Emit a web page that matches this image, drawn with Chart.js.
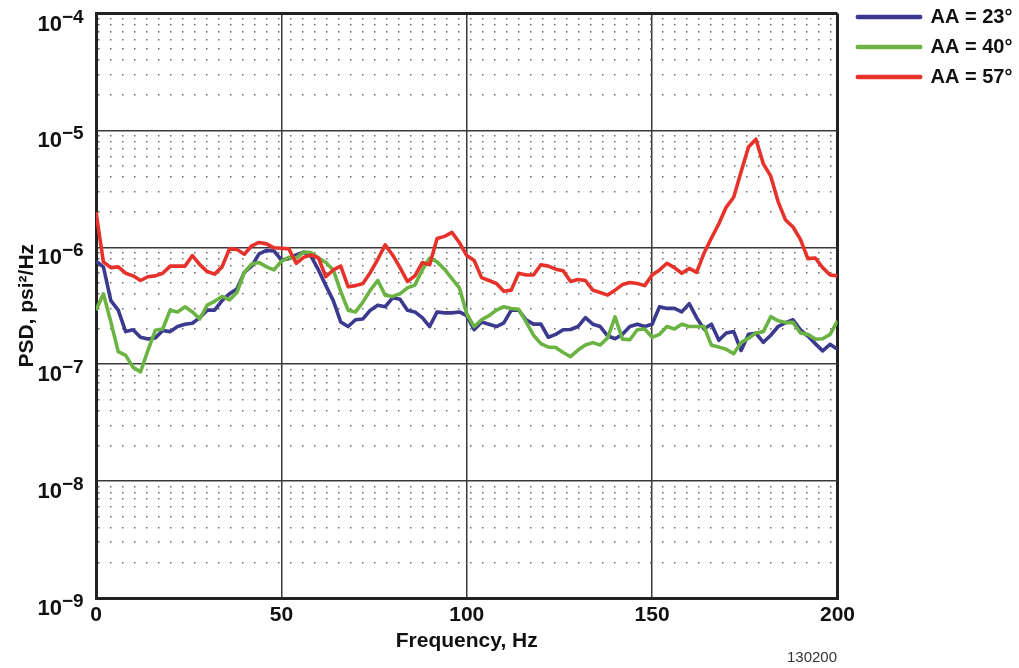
<!DOCTYPE html>
<html lang="en">
<head>
  <meta charset="UTF-8">
  <title>PSD vs frequency</title>
  <style>
    body {
      margin: 0;
      background: #fff;
    }
    #wrap {
      position: relative;
      width: 1019px;
      height: 668px;
    }
    #figId {
      position: absolute;
      left: 787px;
      top: 649px;
      font: 15px/15px "Liberation Sans", Arial, sans-serif;
      color: #333;
    }
  </style>
</head>
<body>

  <div id="wrap">
    <canvas id="psdChart" width="1019" height="668"></canvas>
    <div id="figId">130200</div>
  </div>

  <script src="https://cdn.jsdelivr.net/npm/chart.js"></script>

  <script>
    // frequencies, Hz
    const freqHz = [
      0, 2, 4, 6, 8, 10, 12, 14, 16, 18,
      20, 22, 24, 26, 28, 30, 32, 34, 36, 38,
      40, 42, 44, 46, 48, 50, 52, 54, 56, 58,
      60, 62, 64, 66, 68, 70, 72, 74, 76, 78,
      80, 82, 84, 86, 88, 90, 92, 94, 96, 98,
      100, 102, 104, 106, 108, 110, 112, 114, 116, 118,
      120, 122, 124, 126, 128, 130, 132, 134, 136, 138,
      140, 142, 144, 146, 148, 150, 152, 154, 156, 158,
      160, 162, 164, 166, 168, 170, 172, 174, 176, 178,
      180, 182, 184, 186, 188, 190, 192, 194, 196, 198,
      200
    ];

    // PSD, psi^2/Hz
    const psdAA23 = [
      7.6e-7, 6.8e-7, 3.5e-7, 2.9e-7, 1.9e-7, 1.97e-7, 1.7e-7, 1.64e-7, 1.68e-7, 1.94e-7,
      1.9e-7, 2.1e-7, 2.2e-7, 2.24e-7, 2.5e-7, 2.9e-7, 2.9e-7, 3.5e-7, 4.0e-7, 4.4e-7,
      6.1e-7, 6.9e-7, 8.8e-7, 9.4e-7, 9.3e-7, 7.8e-7, 8.0e-7, 8.6e-7, 9.1e-7, 8.4e-7,
      6.4e-7, 4.7e-7, 3.5e-7, 2.3e-7, 2.1e-7, 2.4e-7, 2.44e-7, 2.9e-7, 3.2e-7, 3.1e-7,
      3.7e-7, 3.6e-7, 2.9e-7, 2.8e-7, 2.5e-7, 2.1e-7, 2.8e-7, 2.75e-7, 2.75e-7, 2.8e-7,
      2.6e-7, 1.97e-7, 2.3e-7, 2.2e-7, 2.1e-7, 2.26e-7, 2.9e-7, 2.9e-7, 2.4e-7, 2.2e-7,
      2.2e-7, 1.7e-7, 1.8e-7, 1.97e-7, 1.98e-7, 2.1e-7, 2.5e-7, 2.2e-7, 2.1e-7, 1.75e-7,
      1.65e-7, 1.8e-7, 2.1e-7, 2.2e-7, 2.1e-7, 2.2e-7, 3.1e-7, 3.0e-7, 3.0e-7, 2.8e-7,
      3.3e-7, 2.5e-7, 2.0e-7, 2.2e-7, 1.6e-7, 1.85e-7, 1.9e-7, 1.31e-7, 1.8e-7, 1.84e-7,
      1.54e-7, 1.77e-7, 2.1e-7, 2.27e-7, 2.4e-7, 1.97e-7, 1.74e-7, 1.5e-7, 1.3e-7, 1.48e-7,
      1.34e-7
    ];
    const psdAA40 = [
      2.9e-7, 4.0e-7, 2.3e-7, 1.28e-7, 1.19e-7, 9.4e-8, 8.6e-8, 1.31e-7, 1.95e-7, 2.0e-7,
      2.9e-7, 2.8e-7, 3.1e-7, 2.8e-7, 2.44e-7, 3.2e-7, 3.45e-7, 3.8e-7, 3.55e-7, 4.1e-7,
      6.1e-7, 7.2e-7, 7.4e-7, 6.8e-7, 6.4e-7, 7.6e-7, 8.2e-7, 8.1e-7, 9.1e-7, 9.0e-7,
      8.1e-7, 7.4e-7, 6.4e-7, 4.2e-7, 2.9e-7, 2.8e-7, 3.4e-7, 4.3e-7, 5.2e-7, 3.9e-7,
      3.8e-7, 4.0e-7, 4.5e-7, 4.75e-7, 6.4e-7, 8.1e-7, 7.5e-7, 6.5e-7, 5.4e-7, 4.5e-7,
      2.7e-7, 2.1e-7, 2.4e-7, 2.6e-7, 2.9e-7, 3.1e-7, 3.0e-7, 2.95e-7, 2.3e-7, 1.77e-7,
      1.5e-7, 1.4e-7, 1.39e-7, 1.26e-7, 1.16e-7, 1.32e-7, 1.46e-7, 1.53e-7, 1.46e-7, 1.68e-7,
      2.54e-7, 1.64e-7, 1.62e-7, 1.97e-7, 2.0e-7, 1.7e-7, 1.8e-7, 2.1e-7, 2.0e-7, 2.2e-7,
      2.1e-7, 2.1e-7, 2.1e-7, 1.45e-7, 1.4e-7, 1.34e-7, 1.23e-7, 1.53e-7, 1.67e-7, 1.85e-7,
      1.9e-7, 2.55e-7, 2.35e-7, 2.27e-7, 2.28e-7, 1.85e-7, 1.8e-7, 1.64e-7, 1.65e-7, 1.8e-7,
      2.35e-7
    ];
    const psdAA57 = [
      2.0e-6, 7.5e-7, 6.7e-7, 6.8e-7, 6.0e-7, 5.7e-7, 5.2e-7, 5.6e-7, 5.7e-7, 6.0e-7,
      6.9e-7, 6.9e-7, 6.9e-7, 8.5e-7, 7.1e-7, 6.2e-7, 5.9e-7, 6.8e-7, 9.7e-7, 9.6e-7,
      8.7e-7, 1.03e-6, 1.10e-6, 1.07e-6, 9.9e-7, 9.8e-7, 9.7e-7, 7.3e-7, 8.2e-7, 8.6e-7,
      8.1e-7, 5.6e-7, 6.4e-7, 6.9e-7, 4.6e-7, 4.7e-7, 4.9e-7, 6.1e-7, 7.9e-7, 1.05e-6,
      8.6e-7, 6.7e-7, 5.1e-7, 5.7e-7, 7.4e-7, 7.1e-7, 1.19e-6, 1.24e-6, 1.34e-6, 1.10e-6,
      8.5e-7, 7.7e-7, 5.5e-7, 5.2e-7, 4.9e-7, 4.2e-7, 4.3e-7, 6.0e-7, 5.8e-7, 5.8e-7,
      7.1e-7, 6.9e-7, 6.5e-7, 6.3e-7, 5.1e-7, 5.3e-7, 5.2e-7, 4.3e-7, 4.1e-7, 3.9e-7,
      4.3e-7, 4.8e-7, 5.0e-7, 4.9e-7, 4.7e-7, 5.8e-7, 6.4e-7, 7.3e-7, 6.7e-7, 6.0e-7,
      6.6e-7, 6.1e-7, 8.9e-7, 1.20e-6, 1.59e-6, 2.21e-6, 2.68e-6, 4.42e-6, 7.2e-6, 8.4e-6,
      5.17e-6, 4.06e-6, 2.45e-6, 1.71e-6, 1.49e-6, 1.17e-6, 8.0e-7, 8.1e-7, 6.7e-7, 5.8e-7,
      5.7e-7
    ];

    const seriesNames = ['AA = 23°', 'AA = 40°', 'AA = 57°'];
    const seriesColors = ['#3c3a8e', '#6bb342', '#e6322a'];

    const xTickValues = [0, 50, 100, 150, 200];
    const decadeExps = [-9, -8, -7, -6, -5, -4];
    const yTickBase = '10';
    const yTickExps = ['−9', '−8', '−7', '−6', '−5', '−4'];

    const FONT = '"Liberation Sans", Arial, Helvetica, sans-serif';
    Chart.defaults.font.family = FONT;
    Chart.defaults.color = '#111';

    function isDecade(v) {
      const l = Math.log10(v);
      return Math.abs(l - Math.round(l)) < 1e-6;
    }

    // grid positions 1..9 x 10^n for the dotted lines
    const yGridValues = [];
    decadeExps.forEach((e, i) => {
      if (i === decadeExps.length - 1) {
        yGridValues.push(Math.pow(10, e));
        return;
      }
      for (let m = 1; m <= 9; m++) yGridValues.push(m * Math.pow(10, e));
    });

    // y tick labels as 10 with a raised exponent
    const decadeLabels = {
      id: 'decadeLabels',
      afterDraw(chart) {
        const ctx = chart.ctx;
        const y = chart.scales.y;
        ctx.save();
        ctx.fillStyle = '#111';
        ctx.textBaseline = 'alphabetic';
        decadeExps.forEach((e, i) => {
          const py = y.getPixelForValue(Math.pow(10, e));
          ctx.font = 'bold 22px ' + FONT;
          ctx.textAlign = 'right';
          ctx.fillText(yTickBase, 62, py + 17);
          ctx.font = 'bold 19px ' + FONT;
          ctx.textAlign = 'left';
          ctx.fillText(yTickExps[i], 62, py + 9);
        });
        ctx.restore();
      }
    };

    const allSeries = [psdAA23, psdAA40, psdAA57];

    const ctx = document.getElementById('psdChart').getContext('2d');
    const chart = new Chart(ctx, {
      type: 'line',
      data: {
        labels: freqHz,
        datasets: allSeries.map((vals, i) => ({
          label: seriesNames[i],
          data: vals,
          borderColor: seriesColors[i],
          backgroundColor: seriesColors[i],
          borderWidth: 3.6,
          pointRadius: 0,
          tension: 0,
          borderJoinStyle: 'round',
          order: 2 - i
        }))
      },
      options: {
        responsive: false,
        animation: false,
        layout: { padding: { top: -3, right: 2, bottom: 0, left: 0 } },
        plugins: {
          tooltip: { enabled: false },
          legend: {
            position: 'right',
            align: 'start',
            labels: {
              boxWidth: 63,
              boxHeight: 1,
              padding: 10,
              color: '#111',
              font: { size: 20, weight: 'bold' },
              sort: (a, b) => a.datasetIndex - b.datasetIndex
            }
          }
        },
        scales: {
          x: {
            type: 'linear',
            min: 0,
            max: 200,
            afterBuildTicks: s => { s.ticks = xTickValues.map(v => ({ value: v })); },
            afterFit: s => { s.height = 70; },
            ticks: {
              padding: 5,
              maxRotation: 0,
              color: '#111',
              font: { size: 21, weight: 'bold' }
            },
            grid: {
              drawTicks: false,
              color: c => (c.tick && (c.tick.value === 0 || c.tick.value === 200)) ? '#222' : '#3a3a3a',
              lineWidth: c => (c.tick && (c.tick.value === 0 || c.tick.value === 200)) ? 3 : 1.5
            },
            border: { color: '#222', width: 3 },
            title: {
              display: true,
              text: 'Frequency, Hz',
              color: '#111',
              font: { size: 21, weight: 'bold' },
              padding: { top: 0, bottom: 14 }
            }
          },
          xTop: {
            type: 'linear',
            axis: 'x',
            position: 'top',
            grid: { display: false, drawTicks: false },
            ticks: { display: false },
            border: { display: false },
            afterFit: s => { s.height = 16.5; }
          },
          y: {
            type: 'logarithmic',
            min: 1e-9,
            max: 1e-4,
            afterBuildTicks: s => { s.ticks = yGridValues.map(v => ({ value: v, major: isDecade(v) })); },
            afterFit: s => { s.width = 96; },
            ticks: { display: false },
            grid: {
              drawTicks: false,
              color: c => {
                if (!c.tick) return '#3a3a3a';
                if (c.tick.value > 0.99e-4 || c.tick.value < 1.01e-9) return '#222';
                return isDecade(c.tick.value) ? '#3a3a3a' : '#6a6a6a';
              },
              lineWidth: c => {
                if (!c.tick) return 1.5;
                if (c.tick.value > 0.99e-4 || c.tick.value < 1.01e-9) return 3;
                return 1.5;
              }
            },
            border: {
              color: '#222',
              width: 3,
              dash: c => (c.tick && !isDecade(c.tick.value)) ? [1.5, 10.5] : []
            },
            title: {
              display: true,
              text: 'PSD, psi²/Hz',
              color: '#111',
              font: { size: 21, weight: 'bold' },
              padding: { top: 15, bottom: 0 }
            }
          },
          yRight: {
            type: 'linear',
            axis: 'y',
            position: 'right',
            grid: { display: false, drawTicks: false },
            ticks: { display: false },
            border: { display: false },
            afterFit: s => { s.width = 10; }
          }
        }
      },
      plugins: [decadeLabels]
    });
  </script>

</body>
</html>
